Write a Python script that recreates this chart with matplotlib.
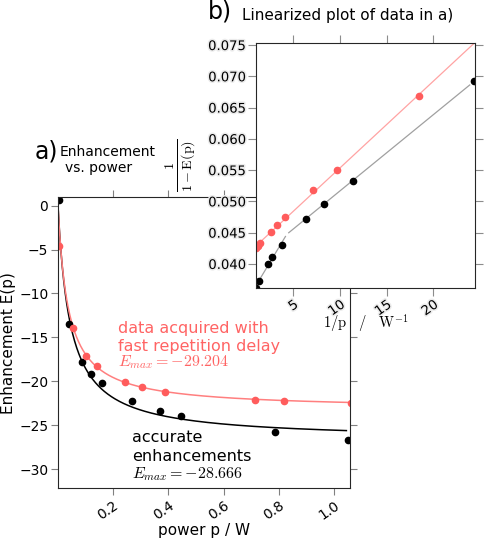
import numpy as np
import matplotlib.pyplot as plt
import matplotlib.patheffects as pe

plt.rcParams['mathtext.fontset'] = 'cm'
plt.rcParams['font.family'] = 'DejaVu Sans'

# Data
black_p = [0.002, 0.041, 0.088, 0.121, 0.158, 0.268, 0.37, 0.445, 0.785, 1.05]
black_E = [0.6, -13.45, -17.75, -19.15, -20.2, -22.25, -23.35, -24.0, -25.8, -26.7]
red_p = [0.005, 0.054, 0.103, 0.14, 0.242, 0.305, 0.387, 0.715, 0.82, 1.06]
red_E = [-4.6, -13.95, -17.15, -18.3, -20.05, -20.65, -21.2, -22.1, -22.3, -22.5]

# Saturation fits drawn in a): amplitude, half-saturation power, p range
black_fit = (-26.7, 0.044, 1.045)
red_fit = (-23.2, 0.037, 1.06)

# Linear fits in b): 1/p ranges of the drawn segments
black_seg_lo = [0.9, 4.15]
black_seg_hi = [4.5, 23.9]
red_seg = [0.9, 25.5]

main_xticks = [0.2, 0.4, 0.6, 0.8, 1.0]
main_yticks = [0, -5, -10, -15, -20, -25, -30]
ins_xticks = [5, 10, 15, 20]
ins_yticks = [0.040, 0.045, 0.050, 0.055, 0.060, 0.065, 0.070, 0.075]

red_text = '#ff6464'
red_dot = '#ff5c5c'
red_line = '#ff7f7f'
red_line_ins = '#ffa3a3'


def saturation(p, amp, p_half):
    return amp * p / (p + p_half)


fig = plt.figure(figsize=(4.85, 5.4), dpi=100)

# ---- a) main plot ----
ax = fig.add_axes([0.1196, 0.0957, 0.602, 0.5389])
pf = np.linspace(0, black_fit[2], 400)
ax.plot(pf, saturation(pf, black_fit[0], black_fit[1]), color='k', lw=1.1)
pf = np.linspace(0, red_fit[2], 400)
ax.plot(pf, saturation(pf, red_fit[0], red_fit[1]), color=red_line, lw=1.1)
ax.plot(black_p, black_E, 'o', color='k', ms=4.5)
ax.plot(red_p, red_E, 'o', color=red_dot, ms=4.5)

ax.set_xlim(0, 1.058)
ax.set_ylim(-32.2, 0.96)
ax.set_xticks(main_xticks)
ax.set_xticklabels([f'{v:.1f}' for v in main_xticks])
ax.set_yticks(main_yticks)
ax.tick_params(direction='out', length=5, width=0.8, color='0.5', top=True, right=True,
               labelsize=10, pad=2)
plt.setp(ax.get_xticklabels(), rotation=35, ha='right', va='top', rotation_mode='anchor')
for s in ax.spines.values():
    s.set_color('0.15')
ax.set_xlabel('power p / W', fontsize=11)
ax.xaxis.set_label_coords(0.5, -0.118)
ax.set_ylabel('Enhancement E(p)', fontsize=11, labelpad=2)

red_lines = ['data acquired with', 'fast repetition delay', r'$E_{max}=-29.204$']
red_base = [0.535, 0.473, 0.4186]
for txt, yb in zip(red_lines, red_base):
    ax.text(0.2055, yb, txt, color=red_text, fontsize=11.5, va='baseline', transform=ax.transAxes)
black_lines = ['accurate', 'enhancements', r'$E_{max}=-28.666$']
black_base = [0.158, 0.0938, 0.0344]
for txt, yb in zip(black_lines, black_base):
    ax.text(0.2524, yb, txt, color='k', fontsize=11.5, va='baseline', transform=ax.transAxes)

fig.text(0.072, 0.7069, 'a)', fontsize=17, va='baseline')
fig.text(0.1223, 0.7117, 'Enhancement', fontsize=10, va='baseline')
fig.text(0.134, 0.682, 'vs. power', fontsize=10, va='baseline')

# ---- b) linearized inset ----
ins = fig.add_axes([0.5272, 0.4661, 0.4528, 0.4548])
inv_bp = 1 / np.array(black_p)
lin_bE = 1 / (1 - np.array(black_E))
inv_rp = 1 / np.array(red_p)
lin_rE = 1 / (1 - np.array(red_E))

lower = inv_bp < 4
upper = (inv_bp > 4) & (inv_bp < 100)
c_lo = np.polyfit(inv_bp[lower], lin_bE[lower], 1)
c_hi = np.polyfit(inv_bp[upper], lin_bE[upper], 1)
c_red = np.polyfit(inv_rp[inv_rp < 100], lin_rE[inv_rp < 100], 1)

for seg, c in [(black_seg_lo, c_lo), (black_seg_hi, c_hi)]:
    xs = np.array(seg)
    ins.plot(xs, np.polyval(c, xs), color='#a0a0a0', lw=0.9)
xs = np.array(red_seg)
ins.plot(xs, np.polyval(c_red, xs), color=red_line_ins, lw=0.9)
ins.plot(inv_bp, lin_bE, 'o', color='k', ms=4.5)
ins.plot(inv_rp, lin_rE, 'o', color=red_dot, ms=4.5)

ins.set_xlim(0.96, 24.5)
ins.set_ylim(0.0361, 0.07537)
ins.set_xticks(ins_xticks)
ins.set_xticklabels([str(v) for v in ins_xticks])
ins.set_yticks(ins_yticks)
ins.set_yticklabels([f'{v:.3f}' for v in ins_yticks])
ins.tick_params(direction='out', length=6, width=0.8, color='0.55', top=True, right=True,
                labelsize=9.5, pad=1)
plt.setp(ins.get_xticklabels(), rotation=35, ha='right', va='top', rotation_mode='anchor')
for s in ins.spines.values():
    s.set_color('0.15')

glow = [pe.withStroke(linewidth=2.2, foreground='#ebebeb')]
for t in ins.get_xticklabels() + ins.get_yticklabels():
    t.set_path_effects(glow)

ins.set_xlabel(r'$1/\mathrm{p}\quad/\quad\mathrm{W}^{-1}$', fontsize=10.5)
ins.xaxis.set_label_coords(0.5, -0.095)
ins.set_ylabel(r'$\frac{1}{1-\mathrm{E(p)}}$', fontsize=14.5)
ins.yaxis.set_label_coords(-0.265, 0.5)

fig.text(0.4295, 0.9657, 'b)', fontsize=17, va='baseline')
fig.text(0.4984, 0.963, 'Linearized plot of data in a)', fontsize=11, va='baseline')

fig.savefig('out.png', dpi=100)
